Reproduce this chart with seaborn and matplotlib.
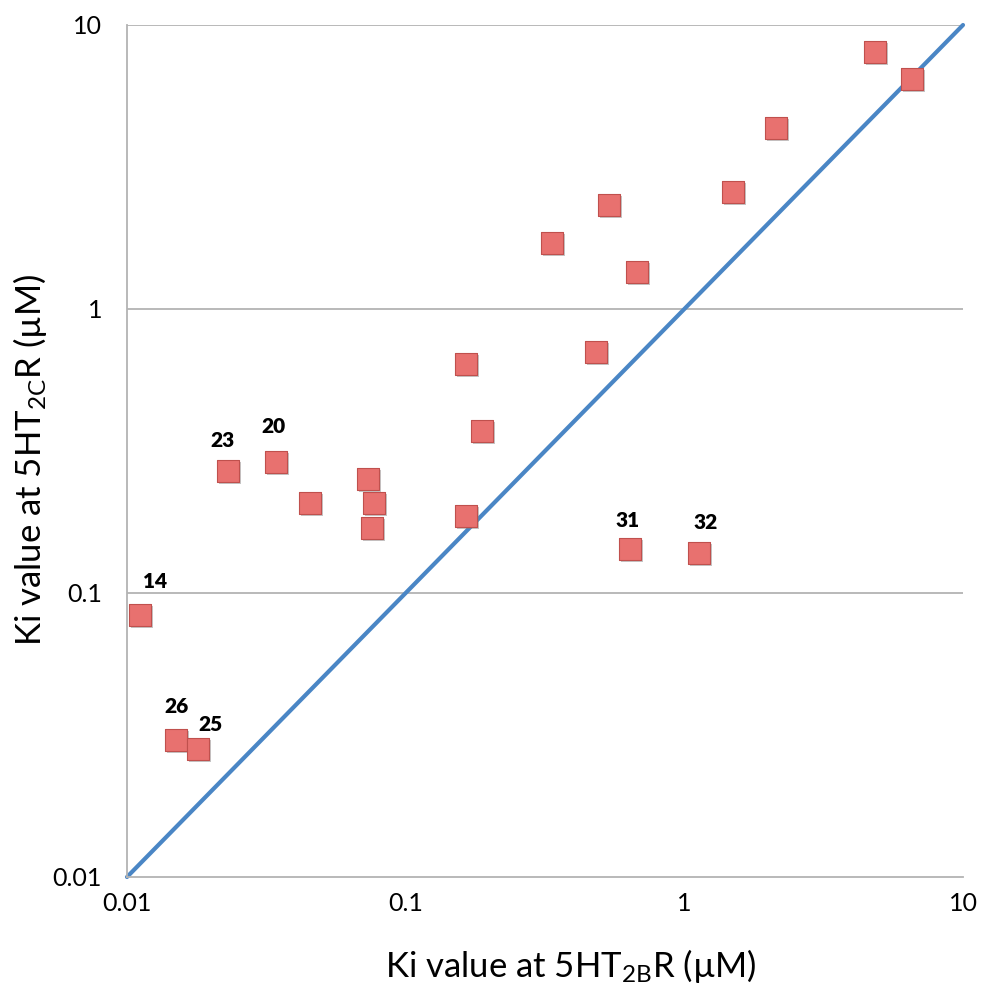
import matplotlib
matplotlib.use("Agg")
import matplotlib.pyplot as plt
import matplotlib.patheffects as pe
import seaborn as sns
import pandas as pd

# ---- data ----
ki_5ht2b = [0.01114, 0.01499, 0.01803, 0.02298, 0.03417, 0.04523, 0.07341, 0.07696,
            0.07551, 0.1642, 0.1874, 0.1642, 0.3341, 0.5377, 0.6776, 0.4805,
            0.6380, 1.128, 1.490, 2.126, 4.818, 6.573]
ki_5ht2c = [0.0837, 0.0304, 0.0282, 0.2695, 0.2900, 0.2069, 0.2520, 0.2080,
            0.1690, 0.640, 0.3727, 0.1867, 1.712, 2.324, 1.353, 0.7074,
            0.1425, 0.1380, 2.588, 4.328, 8.054, 6.44]
compound_labels = ["14", "26", "25", "23", "20", "", "", "",
                   "", "", "", "", "", "", "", "",
                   "31", "32", "", "", "", ""]
identity_x = [0.01, 10]
identity_y = [0.01, 10]
tick_values = [0.01, 0.1, 1, 10]
tick_labels = ["0.01", "0.1", "1", "10"]

df = pd.DataFrame({"x": ki_5ht2b, "y": ki_5ht2c, "label": compound_labels})
line_df = pd.DataFrame({"x": identity_x, "y": identity_y})

sns.set_theme(style="white")
plt.rcParams["font.family"] = ["Lato", "DejaVu Sans"]
plt.rcParams["mathtext.fontset"] = "custom"
plt.rcParams["mathtext.rm"] = "Lato"
plt.rcParams["mathtext.it"] = "Lato:italic"
plt.rcParams["mathtext.bf"] = "Lato:bold"

fig = plt.figure(figsize=(9.84, 9.90), dpi=100)
ax = fig.add_axes([127 / 984, 1 - 877 / 990, 836 / 984, 852 / 990])
ax.set_xscale("log")
ax.set_yscale("log")

# horizontal gridlines
for yv in tick_values[1:]:
    ax.axhline(yv, color="#b3b3b3", lw=1.3, zorder=0)

sns.lineplot(data=line_df, x="x", y="y", ax=ax, color="#4a86c5", lw=3.0,
             zorder=2, clip_on=False)

sns.scatterplot(data=df, x="x", y="y", ax=ax, marker="s", s=250,
                color="#e8716f", edgecolor="#c0504d", linewidth=0.8,
                zorder=3, clip_on=False)
for coll in ax.collections:
    coll.set_path_effects([pe.SimplePatchShadow(offset=(1.5, -1.5),
                                                shadow_rgbFace="#808080", alpha=0.45),
                           pe.Normal()])

offsets = {"14": (11, 24), "23": (-3.6, 21.6), "20": (-1.4, 25), "26": (0.7, 24),
           "25": (8.6, 18), "31": (-1.4, 21), "32": (5, 22)}
for xv, yv, lab in zip(df["x"], df["y"], df["label"]):
    if lab:
        ax.annotate(lab, (xv, yv), xytext=offsets[lab], textcoords="offset points",
                    ha="center", va="center", fontsize=15, fontweight="heavy",
                    color="black")

ax.set_xlim(0.01, 10)
ax.set_ylim(0.01, 10)
ax.set_xticks(tick_values)
ax.set_xticklabels(tick_labels)
ax.set_yticks(tick_values)
ax.set_yticklabels(tick_labels)
ax.minorticks_off()
ax.tick_params(axis="both", which="major", direction="out", length=6, width=1.3,
               color="#b3b3b3", labelsize=18, labelcolor="black")
ax.tick_params(axis="x", pad=5)
ax.tick_params(axis="y", pad=12)

for side in ["top", "right"]:
    ax.spines[side].set_visible(False)
for side in ["left", "bottom"]:
    ax.spines[side].set_color("#b3b3b3")
    ax.spines[side].set_linewidth(1.3)

ax.set_xlabel(r"Ki value at 5HT$_{\mathrm{2B}}$R (µM)", fontsize=25, color="black")
ax.set_ylabel(r"Ki value at 5HT$_{\mathrm{2C}}$R (µM)", fontsize=25, color="black")
ax.xaxis.set_label_coords(0.531, -0.082)
ax.yaxis.set_label_coords(-0.093, 0.49)

fig.savefig("out.png", dpi=100)
